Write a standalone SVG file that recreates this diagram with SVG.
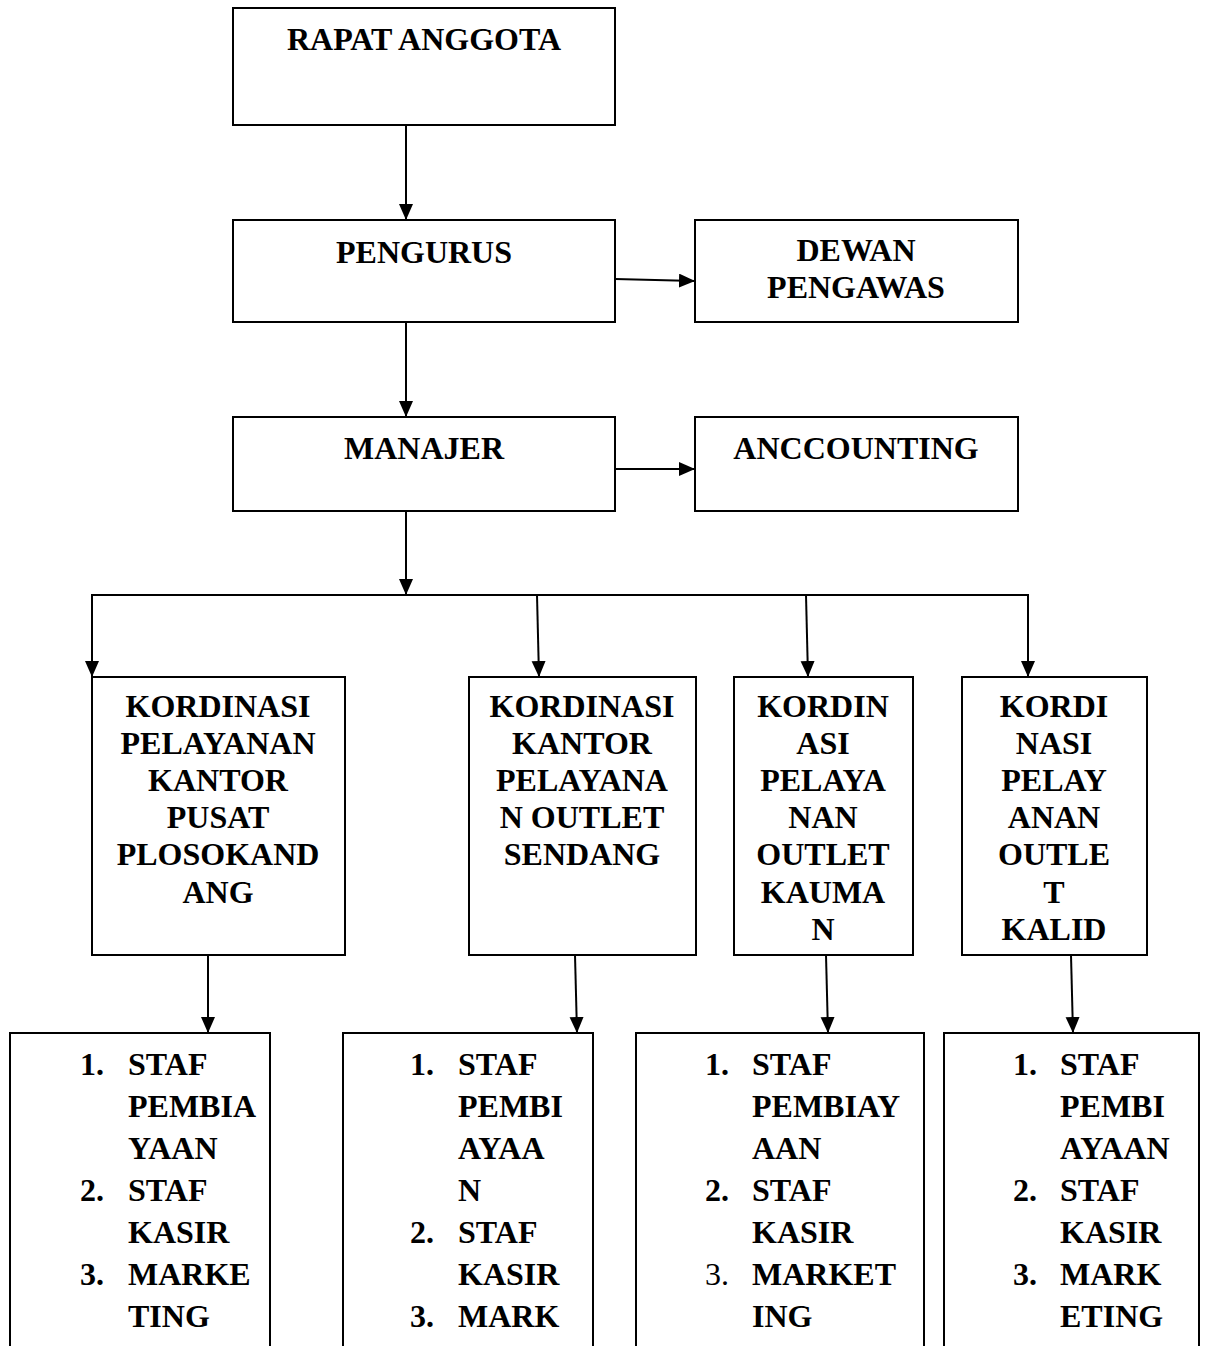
<svg xmlns="http://www.w3.org/2000/svg" width="1205" height="1346" viewBox="0 0 1205 1346">
<style>
.box{fill:#fff;stroke:#000;stroke-width:2}
.t{font-family:"Liberation Serif","Times New Roman",serif;font-weight:bold;font-size:32px;fill:#000}
.c{text-anchor:middle}
.n{font-weight:normal}
.ln{stroke:#000;stroke-width:2;fill:none}
</style>
<defs>
<marker id="ah" markerUnits="userSpaceOnUse" markerWidth="18" markerHeight="16" refX="16" refY="7" orient="auto">
<path d="M0,0 L16,7 L0,14 z" fill="#000"/>
</marker>
</defs>
<g id="connectors">
<line class="ln" x1="406" y1="125" x2="406" y2="220" marker-end="url(#ah)"/>
<line class="ln" x1="615" y1="279" x2="695" y2="281" marker-end="url(#ah)"/>
<line class="ln" x1="406" y1="322" x2="406" y2="417" marker-end="url(#ah)"/>
<line class="ln" x1="615" y1="469" x2="695" y2="469" marker-end="url(#ah)"/>
<line class="ln" x1="406" y1="511" x2="406" y2="595" marker-end="url(#ah)"/>
<line class="ln" x1="91" y1="595" x2="1029" y2="595"/>
<line class="ln" x1="92" y1="594" x2="92" y2="677" marker-end="url(#ah)"/>
<line class="ln" x1="537" y1="595" x2="539" y2="677" marker-end="url(#ah)"/>
<line class="ln" x1="806" y1="595" x2="808" y2="677" marker-end="url(#ah)"/>
<line class="ln" x1="1028" y1="594" x2="1028" y2="677" marker-end="url(#ah)"/>
<line class="ln" x1="208" y1="955" x2="208" y2="1033" marker-end="url(#ah)"/>
<line class="ln" x1="575" y1="955" x2="577" y2="1033" marker-end="url(#ah)"/>
<line class="ln" x1="826" y1="955" x2="828" y2="1033" marker-end="url(#ah)"/>
<line class="ln" x1="1071" y1="955" x2="1073" y2="1033" marker-end="url(#ah)"/>
</g>
<g id="rapat">
<rect class="box" x="233" y="8" width="382" height="117"/>
<text class="t c" x="424" y="50">RAPAT ANGGOTA</text>
</g>
<g id="pengurus">
<rect class="box" x="233" y="220" width="382" height="102"/>
<text class="t c" x="424" y="263">PENGURUS</text>
</g>
<g id="dewan">
<rect class="box" x="695" y="220" width="323" height="102"/>
<text class="t c" x="856" y="261">DEWAN</text>
<text class="t c" x="856" y="298">PENGAWAS</text>
</g>
<g id="manajer">
<rect class="box" x="233" y="417" width="382" height="94"/>
<text class="t c" x="424" y="459">MANAJER</text>
</g>
<g id="accounting">
<rect class="box" x="695" y="417" width="323" height="94"/>
<text class="t c" x="856" y="459">ANCCOUNTING</text>
</g>
<g id="kord1">
<rect class="box" x="92" y="677" width="253" height="278"/>
<text class="t c" x="218" y="717">KORDINASI</text>
<text class="t c" x="218" y="754">PELAYANAN</text>
<text class="t c" x="218" y="791">KANTOR</text>
<text class="t c" x="218" y="828">PUSAT</text>
<text class="t c" x="218" y="865">PLOSOKAND</text>
<text class="t c" x="218" y="903">ANG</text>
</g>
<g id="kord2">
<rect class="box" x="469" y="677" width="227" height="278"/>
<text class="t c" x="582" y="717">KORDINASI</text>
<text class="t c" x="582" y="754">KANTOR</text>
<text class="t c" x="582" y="791">PELAYANA</text>
<text class="t c" x="582" y="828">N OUTLET</text>
<text class="t c" x="582" y="865">SENDANG</text>
</g>
<g id="kord3">
<rect class="box" x="734" y="677" width="179" height="278"/>
<text class="t c" x="823" y="717">KORDIN</text>
<text class="t c" x="823" y="754">ASI</text>
<text class="t c" x="823" y="791">PELAYA</text>
<text class="t c" x="823" y="828">NAN</text>
<text class="t c" x="823" y="865">OUTLET</text>
<text class="t c" x="823" y="903">KAUMA</text>
<text class="t c" x="823" y="940">N</text>
</g>
<g id="kord4">
<rect class="box" x="962" y="677" width="185" height="278"/>
<text class="t c" x="1054" y="717">KORDI</text>
<text class="t c" x="1054" y="754">NASI</text>
<text class="t c" x="1054" y="791">PELAY</text>
<text class="t c" x="1054" y="828">ANAN</text>
<text class="t c" x="1054" y="865">OUTLE</text>
<text class="t c" x="1054" y="903">T</text>
<text class="t c" x="1054" y="940">KALID</text>
</g>
<g id="staf1">
<path class="ln" d="M10,1346 V1033 H270 V1346"/>
<text class="t" x="80" y="1075">1.</text><text class="t" x="128" y="1075">STAF</text>
<text class="t" x="128" y="1117">PEMBIA</text>
<text class="t" x="128" y="1159">YAAN</text>
<text class="t" x="80" y="1201">2.</text><text class="t" x="128" y="1201">STAF</text>
<text class="t" x="128" y="1243">KASIR</text>
<text class="t" x="80" y="1285">3.</text><text class="t" x="128" y="1285">MARKE</text>
<text class="t" x="128" y="1327">TING</text>
</g>
<g id="staf2">
<path class="ln" d="M343,1346 V1033 H593 V1346"/>
<text class="t" x="410" y="1075">1.</text><text class="t" x="458" y="1075">STAF</text>
<text class="t" x="458" y="1117">PEMBI</text>
<text class="t" x="458" y="1159">AYAA</text>
<text class="t" x="458" y="1201">N</text>
<text class="t" x="410" y="1243">2.</text><text class="t" x="458" y="1243">STAF</text>
<text class="t" x="458" y="1285">KASIR</text>
<text class="t" x="410" y="1327">3.</text><text class="t" x="458" y="1327">MARK</text>
</g>
<g id="staf3">
<path class="ln" d="M636,1346 V1033 H924 V1346"/>
<text class="t" x="705" y="1075">1.</text><text class="t" x="752" y="1075">STAF</text>
<text class="t" x="752" y="1117">PEMBIAY</text>
<text class="t" x="752" y="1159">AAN</text>
<text class="t" x="705" y="1201">2.</text><text class="t" x="752" y="1201">STAF</text>
<text class="t" x="752" y="1243">KASIR</text>
<text class="t n" x="705" y="1285">3.</text><text class="t" x="752" y="1285">MARKET</text>
<text class="t" x="752" y="1327">ING</text>
</g>
<g id="staf4">
<path class="ln" d="M944,1346 V1033 H1199 V1346"/>
<text class="t" x="1013" y="1075">1.</text><text class="t" x="1060" y="1075">STAF</text>
<text class="t" x="1060" y="1117">PEMBI</text>
<text class="t" x="1060" y="1159">AYAAN</text>
<text class="t" x="1013" y="1201">2.</text><text class="t" x="1060" y="1201">STAF</text>
<text class="t" x="1060" y="1243">KASIR</text>
<text class="t" x="1013" y="1285">3.</text><text class="t" x="1060" y="1285">MARK</text>
<text class="t" x="1060" y="1327">ETING</text>
</g>
</svg>
